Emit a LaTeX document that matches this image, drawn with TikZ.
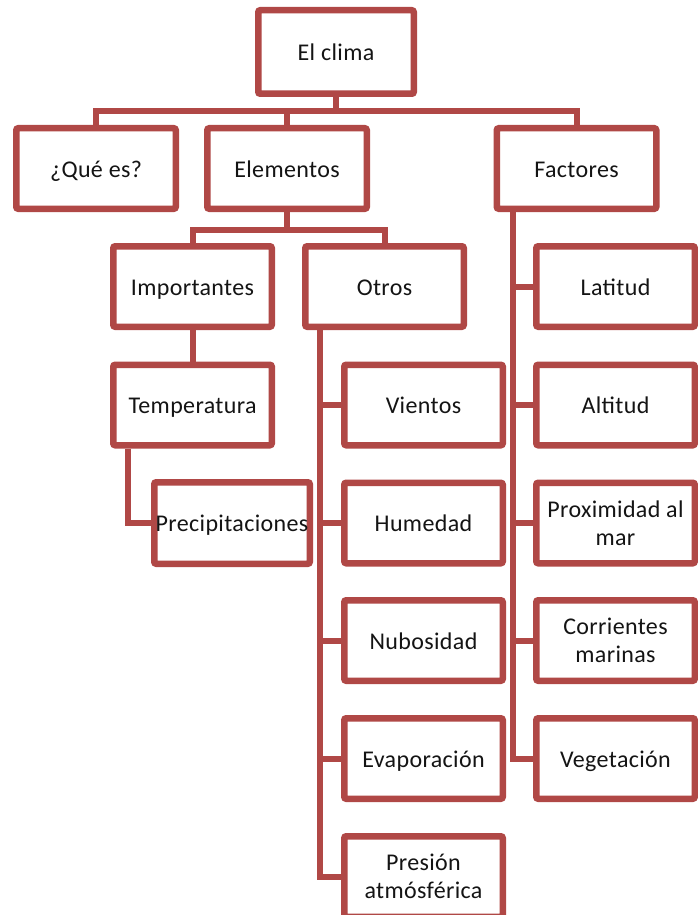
\documentclass[tikz,border=0pt]{standalone}
\usepackage{fontspec}
\setmainfont{Carlito}[LetterSpace=1.5]
\definecolor{brd}{RGB}{176,72,70}
\definecolor{txt}{RGB}{20,20,20}
\begin{document}
\begin{tikzpicture}[x=1pt,y=-1pt,
  bx/.style={draw=brd, line width=6.5pt, rounded corners=2pt, fill=white, inner sep=0pt,
    align=center, font=\fontsize{24}{28}\selectfont, text=txt,
    minimum width=158.5pt, minimum height=80.5pt},
  one/.style={text height=17pt, text depth=0pt},
  cn/.style={draw=brd, line width=6pt}]
\useasboundingbox (0,0) rectangle (697,915);
% boxes
\node[bx, one, minimum width=155.5pt, minimum height=83.5pt] (clima) at (336,52) {El clima};
\node[bx, one, minimum width=159.5pt] (que) at (96,168.5) {¿Qué es?};
\node[bx, one, minimum width=159.5pt] (elem) at (287,168.5) {Elementos};
\node[bx, one, minimum width=159.5pt] (fact) at (576.5,168.5) {Factores};
\node[bx, one] (imp) at (192.5,286.5) {Importantes};
\node[bx, one] (otros) at (384.5,286.5) {Otros};
\node[bx, one] (temp) at (192.5,405) {Temperatura};
\node[bx, one, minimum width=155.5pt, minimum height=81.5pt] (prec) at (232,523) {Precipitaciones};
\node[bx, one] (vientos) at (423.5,405) {Vientos};
\node[bx, one] (hum) at (423.5,523) {Humedad};
\node[bx, one] (nub) at (423.5,640.5) {Nubosidad};
\node[bx, one] (evap) at (423.5,758.5) {Evaporación};
\node[bx] (pres) at (423.5,876.5) {Presión\\atmósférica};
\node[bx, one] (lat) at (615.5,286.5) {Latitud};
\node[bx, one] (alt) at (615.5,405) {Altitud};
\node[bx] (prox) at (615.5,523) {Proximidad al\\mar};
\node[bx] (corr) at (615.5,640.5) {Corrientes\\marinas};
\node[bx, one] (veg) at (615.5,758.5) {Vegetación};
% helper coordinates
\coordinate (b1) at (336,111);
\coordinate (b2) at (288,230);
\coordinate (tp) at (128,523);
\coordinate (ot) at (320,0);
\coordinate (ft) at (513,0);
% connectors
\draw[cn] (clima.south) -- (clima.south |- b1);
\draw[cn] (que.north) |- (b1) -| (fact.north);
\draw[cn] (elem.north) -- (elem.north |- b1);
\draw[cn] (elem.south) -- (elem.south |- b2);
\draw[cn] (imp.north) |- (b2) -| (otros.north);
\draw[cn] (imp.south) -- (temp.north);
\draw[cn] (temp.south -| tp) |- (prec.west);
\draw[cn] (otros.south -| ot) |- (pres.west);
\foreach \n in {vientos,hum,nub,evap} \draw[cn] (\n.west) -- (\n.west -| ot);
\draw[cn] (fact.south -| ft) |- (veg.west);
\foreach \n in {lat,alt,prox,corr} \draw[cn] (\n.west) -- (\n.west -| ft);
\end{tikzpicture}
\end{document}
